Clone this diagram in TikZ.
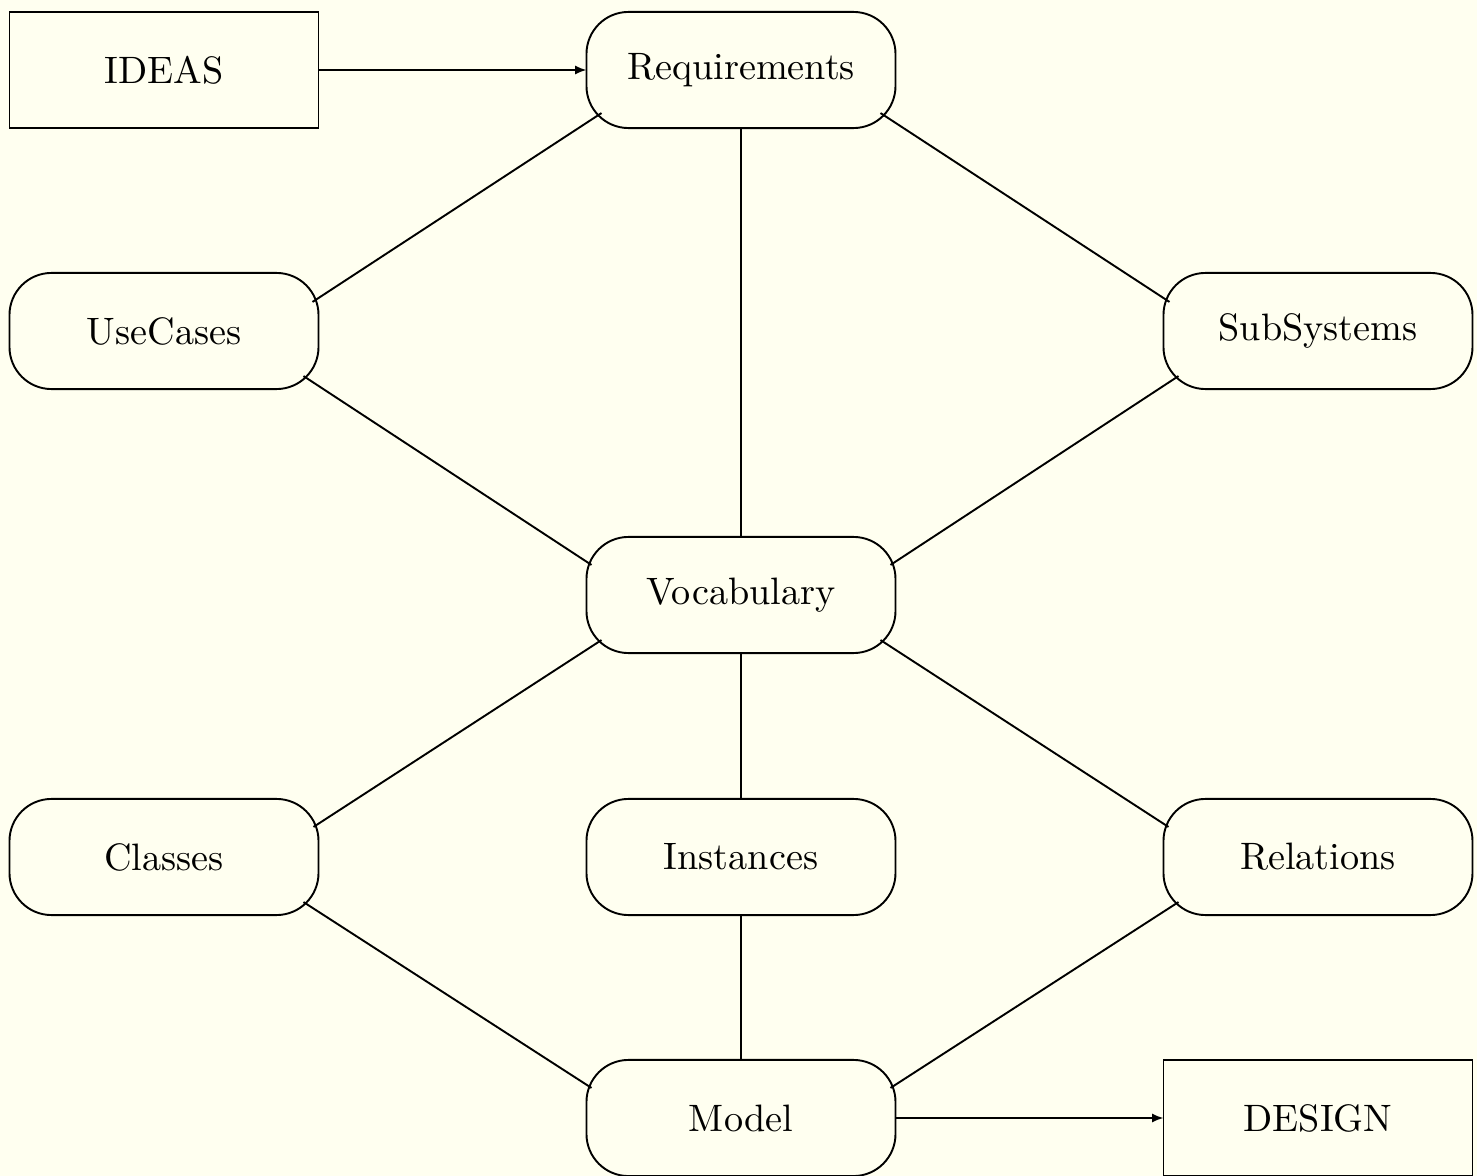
\documentclass[tikz,border=0pt]{standalone}
\usetikzlibrary{calc,arrows.meta}
\definecolor{paper}{HTML}{FFFFF0}
\begin{document}
\begin{tikzpicture}[x=0.2618pt,y=-0.2618pt,
  every path/.style={line width=0.5pt},
  pill/.style={draw,rounded corners=11pt,minimum width=80.9pt,minimum height=30.4pt,inner sep=0pt,outer sep=0pt},
  box/.style={draw,minimum width=80.9pt,minimum height=30.4pt,inner sep=0pt,outer sep=0pt},
  link/.style={draw},
  flow/.style={draw,-{Latex[length=3pt,width=2.4pt]}}]
\useasboundingbox (0,0) rectangle (1477,1176);
\fill[paper] (0,0) rectangle (1477,1176);

% nodes
\node[box]  (ideas)  at (164,70)   {IDEAS};
\node[pill] (req)    at (741,70)   {Requirements};
\node[pill] (uc)     at (164,331)  {UseCases};
\node[pill] (sub)    at (1318,331) {SubSystems};
\node[pill] (voc)    at (741,595)  {Vocabulary};
\node[pill] (cls)    at (164,857)  {Classes};
\node[pill] (inst)   at (741,857)  {Instances};
\node[pill] (rel)    at (1318,857) {Relations};
\node[pill] (model)  at (741,1118) {Model};
\node[box]  (design) at (1318,1118) {DESIGN};

% arrows
\path[flow] (ideas.east) -- (req.west);
\path[flow] (model.east) -- (design.west);

% vertical links
\path[link] (req.south) -- (voc.north);
\path[link] (voc.south) -- (inst.north);
\path[link] (inst.south) -- (model.north);

% diagonal links, corner to corner
\path[link] ($(req.south west)+(15,-15)$) -- ($(uc.north east)+(-6,29)$);
\path[link] ($(req.south east)+(-15,-15)$) -- ($(sub.north west)+(6,29)$);
\path[link] ($(uc.south east)+(-15,-13)$) -- ($(voc.north west)+(5,28)$);
\path[link] ($(sub.south west)+(15,-13)$) -- ($(voc.north east)+(-5,28)$);
\path[link] ($(voc.south west)+(15,-13)$) -- ($(cls.north east)+(-5,28)$);
\path[link] ($(voc.south east)+(-15,-13)$) -- ($(rel.north west)+(5,28)$);
\path[link] ($(cls.south east)+(-15,-13)$) -- ($(model.north west)+(5,28)$);
\path[link] ($(rel.south west)+(15,-13)$) -- ($(model.north east)+(-5,28)$);
\end{tikzpicture}
\end{document}
